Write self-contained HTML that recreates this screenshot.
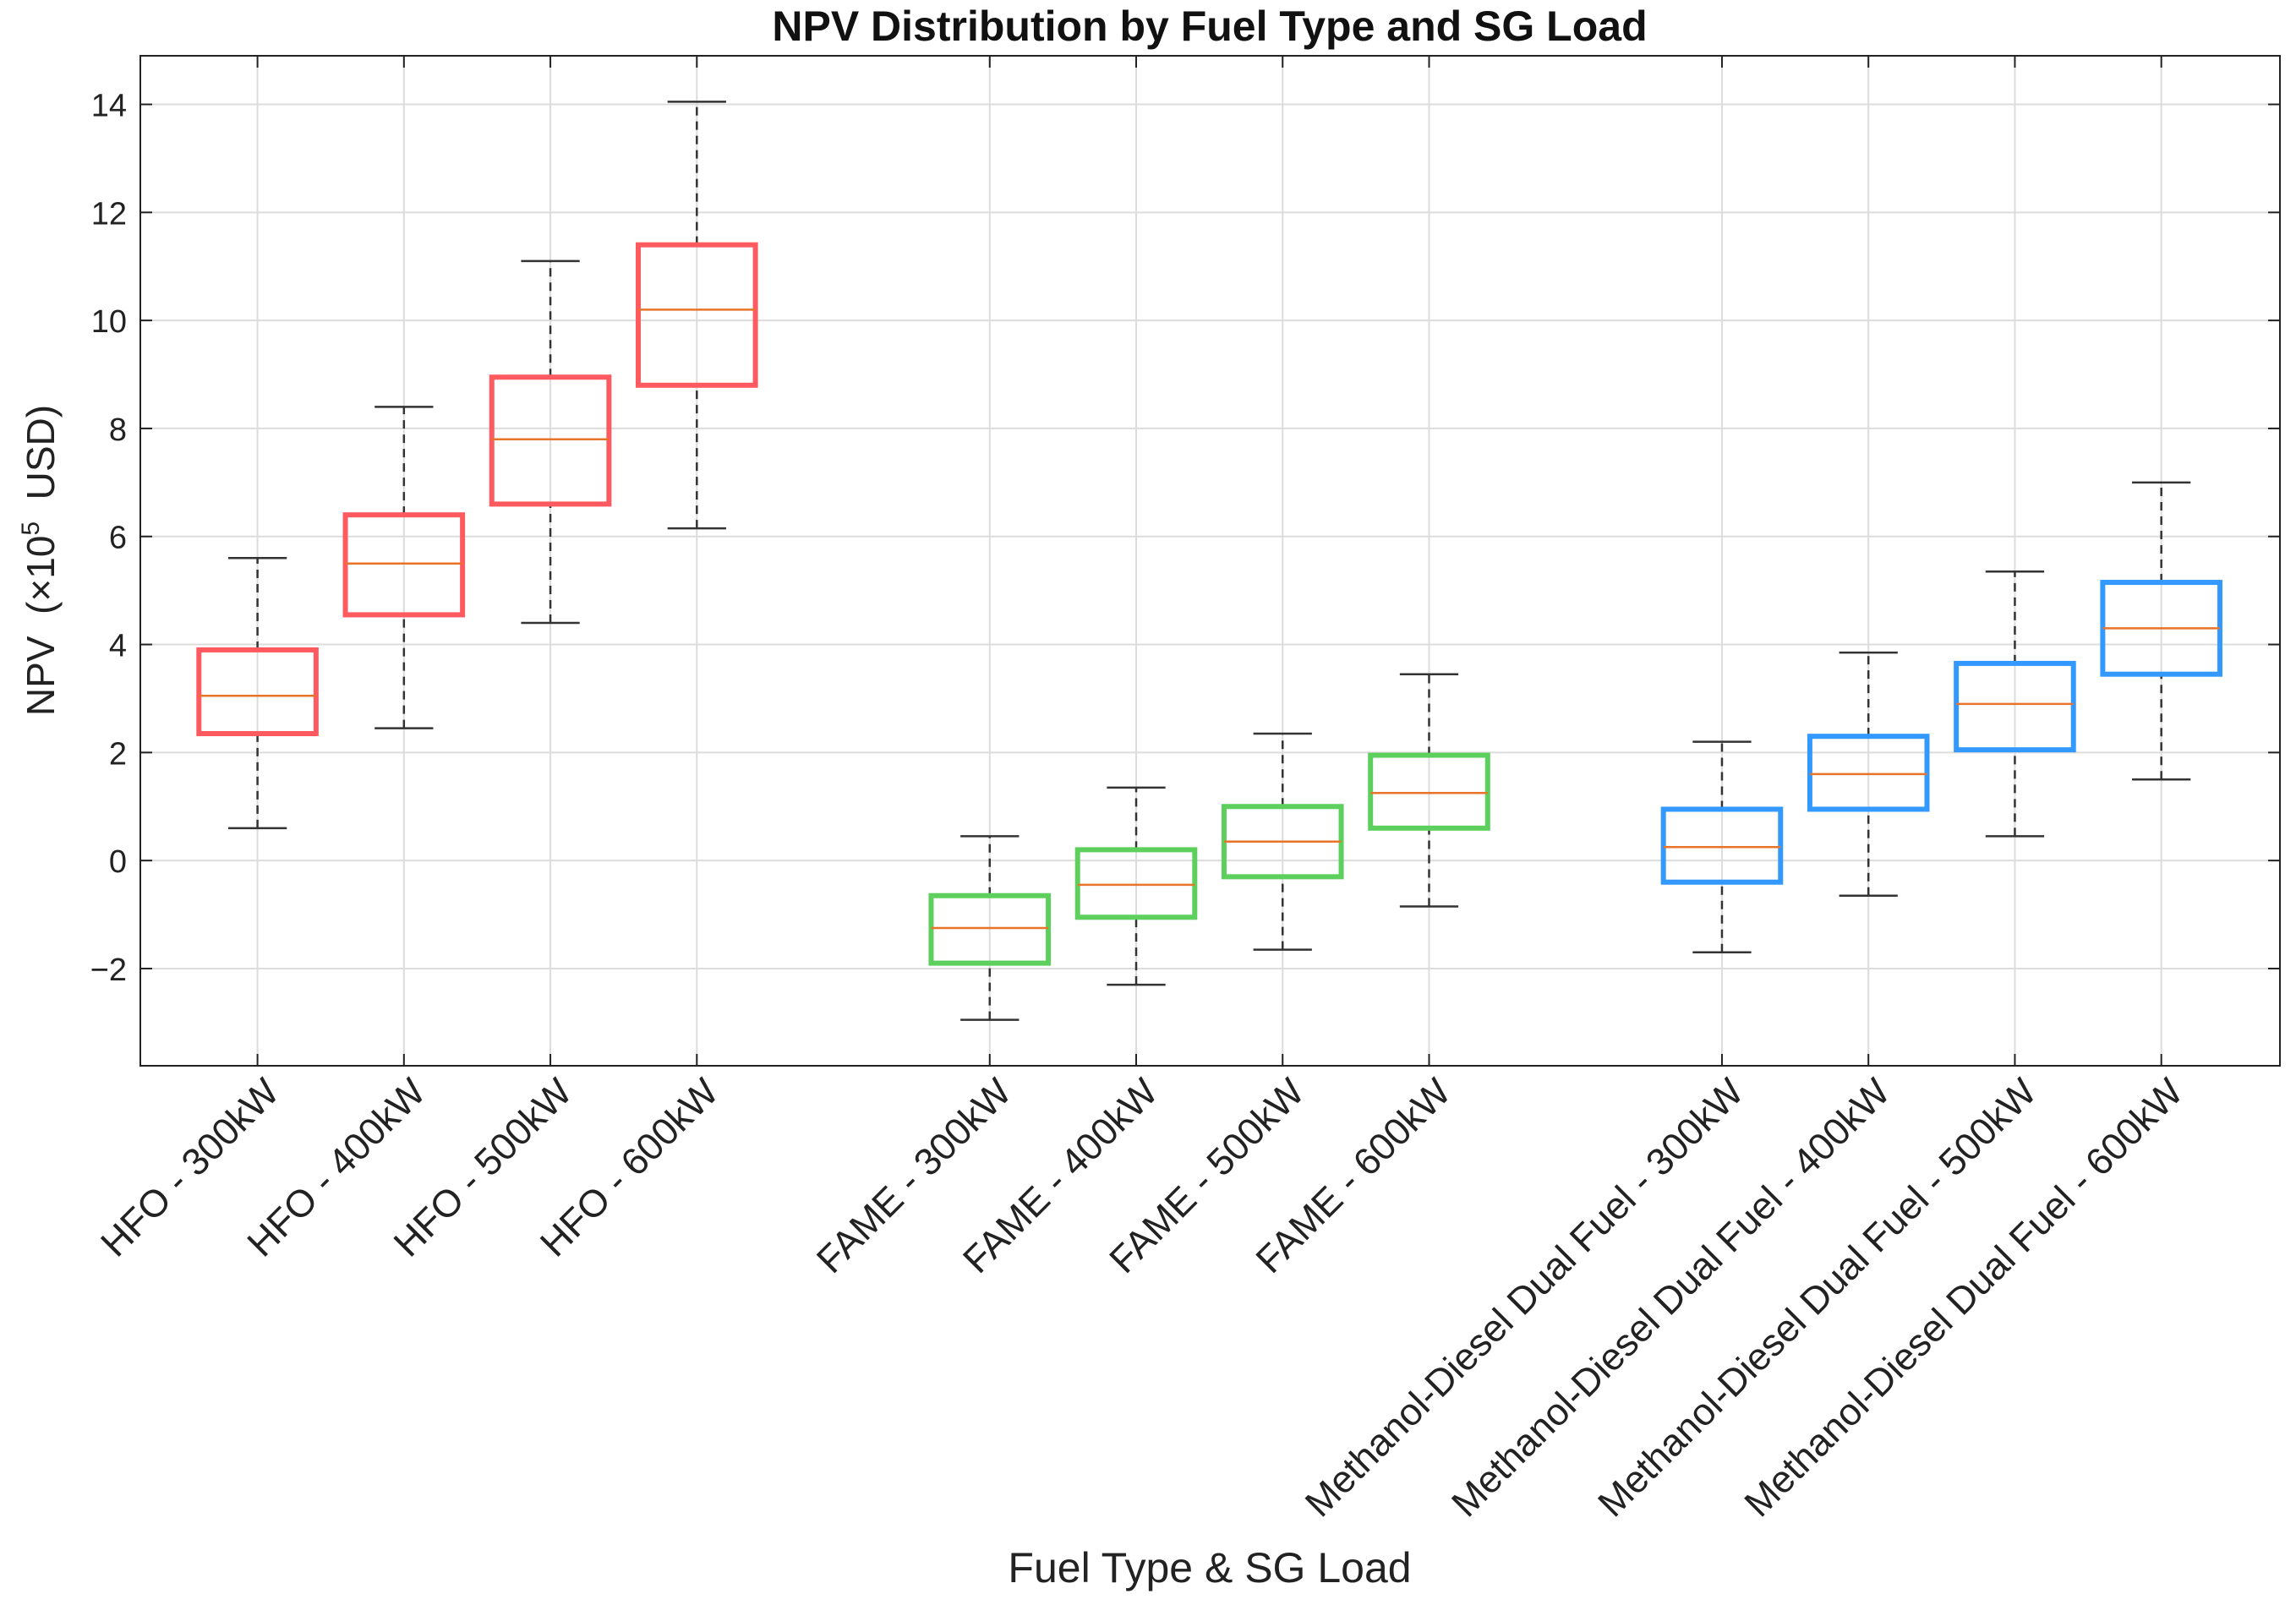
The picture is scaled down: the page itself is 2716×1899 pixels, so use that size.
<!DOCTYPE html>
<html><head><meta charset="utf-8"><style>
body{margin:0;background:#fff}
svg{display:block;font-family:"Liberation Sans",Arial,sans-serif}
</style></head><body>
<svg id="chart" width="2716" height="1899" viewBox="0 0 2716 1899">
<text x="1431" y="48" text-anchor="middle" font-size="50" font-weight="bold" fill="#111">NPV Distribution by Fuel Type and SG Load</text>
<g id="grid"></g><g id="boxes"></g><g id="axes"></g><g id="labels"></g>
<text transform="translate(64,663) rotate(-90)" text-anchor="middle" font-size="46" fill="#222" xml:space="preserve">NPV  (×10<tspan dy="-18" font-size="30">5</tspan><tspan dy="18">  USD)</tspan></text>
<text x="1431" y="1872" text-anchor="middle" font-size="50" fill="#222">Fuel Type &amp; SG Load</text>
</svg>
<script>
const categories=["HFO - 300kW","HFO - 400kW","HFO - 500kW","HFO - 600kW","FAME - 300kW","FAME - 400kW","FAME - 500kW","FAME - 600kW","Methanol-Diesel Dual Fuel - 300kW","Methanol-Diesel Dual Fuel - 400kW","Methanol-Diesel Dual Fuel - 500kW","Methanol-Diesel Dual Fuel - 600kW"];
const positions=[1,2,3,4,6,7,8,9,11,12,13,14];
const whiskerLow=[0.6,2.45,4.4,6.15,-2.95,-2.3,-1.65,-0.85,-1.7,-0.65,0.45,1.5];
const q1=[2.35,4.55,6.6,8.8,-1.9,-1.05,-0.3,0.6,-0.4,0.95,2.05,3.45];
const median=[3.05,5.5,7.8,10.2,-1.25,-0.45,0.35,1.25,0.25,1.6,2.9,4.3];
const q3=[3.9,6.4,8.95,11.4,-0.65,0.2,1.0,1.95,0.95,2.3,3.65,5.15];
const whiskerHigh=[5.6,8.4,11.1,14.05,0.45,1.35,2.35,3.45,2.2,3.85,5.35,7.0];
const groupColor=["#ff5a5f","#ff5a5f","#ff5a5f","#ff5a5f","#5ccf5c","#5ccf5c","#5ccf5c","#5ccf5c","#3399ff","#3399ff","#3399ff","#3399ff"];
const yTicks=[-2,0,2,4,6,8,10,12,14];
const L=166,R=2697,T=66,B=1261,xMin=0.2,xMax=14.81,yMin=-3.8,yMax=14.9;
const X=v=>L+(v-xMin)/(xMax-xMin)*(R-L);
const Y=v=>B-(v-yMin)/(yMax-yMin)*(B-T);
const NS="http://www.w3.org/2000/svg";
function mk(p,t,a){const e=document.createElementNS(NS,t);for(const k in a)e.setAttribute(k,a[k]);p.appendChild(e);return e;}
const grid=document.getElementById('grid'),boxes=document.getElementById('boxes'),axes=document.getElementById('axes'),labels=document.getElementById('labels');
yTicks.forEach(t=>{
 const g=mk(grid,'line',{x1:L,x2:R,y1:Y(t),y2:Y(t),stroke:'#dcdcdc','stroke-width':2});
 
 
 mk(axes,'line',{x1:L,x2:L+14,y1:Y(t),y2:Y(t),stroke:'#222','stroke-width':2});
 mk(axes,'line',{x1:R,x2:R-14,y1:Y(t),y2:Y(t),stroke:'#222','stroke-width':2});
 const tx=mk(labels,'text',{x:L-16,y:Y(t)+14,'text-anchor':'end','font-size':38,fill:'#222'});
 tx.textContent=t<0?'\u2212'+(-t):t;
 
 
});
positions.forEach((p,i)=>{
 const x=X(p),hw=0.4*(X(1)-X(0));
 const g=mk(grid,'line',{x1:x,x2:x,y1:T,y2:B,stroke:'#dcdcdc','stroke-width':2});
 
 
 mk(axes,'line',{x1:x,x2:x,y1:B,y2:B-14,stroke:'#222','stroke-width':2});
 mk(axes,'line',{x1:x,x2:x,y1:T,y2:T+14,stroke:'#222','stroke-width':2});
 const grp=mk(boxes,'g',{});
 
 
 mk(grp,'line',{x1:x,x2:x,y1:Y(whiskerLow[i]),y2:Y(q1[i]),stroke:'#333','stroke-width':2.5,'stroke-dasharray':'10,7'});
 mk(grp,'line',{x1:x,x2:x,y1:Y(q3[i]),y2:Y(whiskerHigh[i]),stroke:'#333','stroke-width':2.5,'stroke-dasharray':'10,7'});
 mk(grp,'line',{x1:x-hw/2,x2:x+hw/2,y1:Y(whiskerLow[i]),y2:Y(whiskerLow[i]),stroke:'#333','stroke-width':2.5});
 mk(grp,'line',{x1:x-hw/2,x2:x+hw/2,y1:Y(whiskerHigh[i]),y2:Y(whiskerHigh[i]),stroke:'#333','stroke-width':2.5});
 mk(grp,'rect',{x:x-hw,y:Y(q3[i]),width:2*hw,height:Y(q1[i])-Y(q3[i]),fill:'none',stroke:groupColor[i],'stroke-width':6});
 mk(grp,'line',{x1:x-hw,x2:x+hw,y1:Y(median[i]),y2:Y(median[i]),stroke:'#e8742a','stroke-width':2.5});
 const tx=mk(labels,'text',{transform:`translate(${x+28},${B+34}) rotate(-45)`,'text-anchor':'end','font-size':45,fill:'#222'});
 tx.textContent=categories[i];
 
 
});
const fr=mk(axes,'rect',{x:L,y:T,width:R-L,height:B-T,fill:'none',stroke:'#222','stroke-width':2});


</script>
</body></html>
